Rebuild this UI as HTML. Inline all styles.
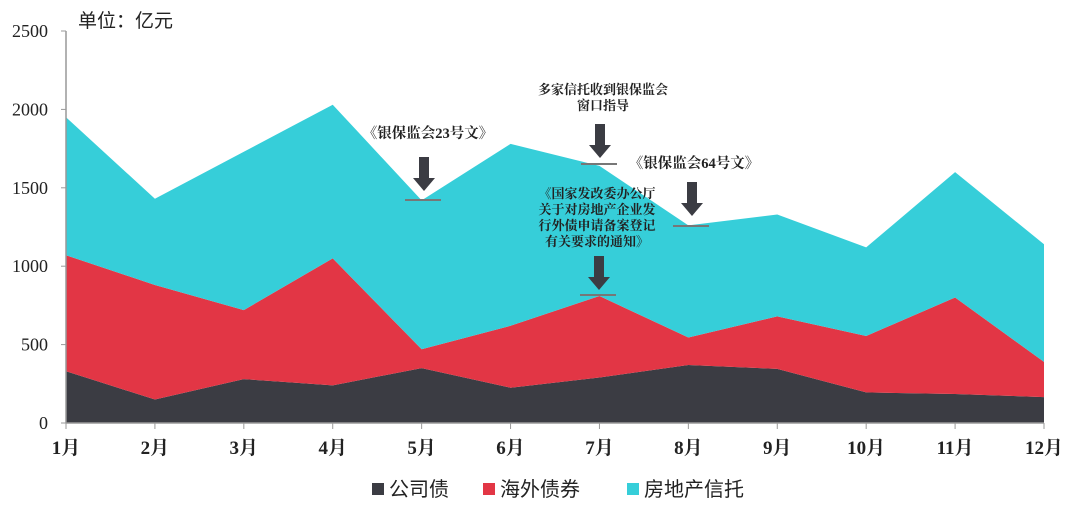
<!DOCTYPE html>
<html><head><meta charset="utf-8"><style>
body{margin:0;background:#fff;}
svg text{font-family:"Liberation Serif","Noto Serif CJK SC",serif;}
</style></head><body>
<svg id="chart" width="1080" height="507" viewBox="0 0 1080 507" xmlns="http://www.w3.org/2000/svg">
<g id="areas"></g>
<g id="axes"></g>
<text x="78" y="27" font-size="19" style="font-family:'Liberation Sans','Noto Sans CJK SC',sans-serif" fill="#222">单位：亿元</text>
<g id="annotations"></g>
<g id="legend"></g>
</svg>
<script>
const months = ["1月","2月","3月","4月","5月","6月","7月","8月","9月","10月","11月","12月"];
const corpBonds = [330,150,280,240,350,225,290,370,345,195,185,165];
const overseasBonds = [740,730,440,810,120,395,520,175,335,360,615,225];
const realEstateTrust = [880,550,1010,980,950,1160,830,715,650,565,800,750];
const yTicks = [0,500,1000,1500,2000,2500];
const yMax = 2500;

const NS="http://www.w3.org/2000/svg";
const x0=66,x1=1044,yb=423,yt=31;
const xs=i=>x0+i*(x1-x0)/(months.length-1);
const ys=v=>yb-(v/yMax)*(yb-yt);
function mk(tag,attrs,parent){const e=document.createElementNS(NS,tag);for(const k in attrs)e.setAttribute(k,attrs[k]);parent.appendChild(e);return e;}

const areas=document.getElementById('areas');
const series=[{name:'corp-bonds-area',vals:corpBonds,color:'#3b3c43'},{name:'overseas-bonds-area',vals:overseasBonds,color:'#e23645'},{name:'real-estate-trust-area',vals:realEstateTrust,color:'#36ced9'}];
let base=months.map(()=>0);
series.forEach(s=>{
  const top=base.map((b,i)=>b+s.vals[i]);
  let d='M'+months.map((m,i)=>xs(i)+','+ys(top[i])).join(' L');
  for(let i=months.length-1;i>=0;i--)d+=' L'+xs(i)+','+ys(base[i]);
  const p=mk('path',{d:d+'Z',fill:s.color},areas);
  
  
  base=top;
});

const axes=document.getElementById('axes');
const ya=mk('line',{x1:x0,y1:yt,x2:x0,y2:yb,stroke:'#999','stroke-width':1.5},axes);


const xa=mk('line',{x1:x0,y1:yb,x2:x1,y2:yb,stroke:'#999','stroke-width':1.5},axes);


yTicks.forEach(v=>{
  mk('line',{x1:x0-5,y1:ys(v),x2:x0,y2:ys(v),stroke:'#999'},axes);
  const t=mk('text',{x:48,y:ys(v)+6,'text-anchor':'end','font-size':18,fill:'#222'},axes);
  t.textContent=v;
  
  
});
months.forEach((m,i)=>{
  mk('line',{x1:xs(i),y1:yb,x2:xs(i),y2:yb+6,stroke:'#999'},axes);
  const t=mk('text',{x:xs(i),y:454,'text-anchor':'middle','font-size':19,'font-weight':'bold',fill:'#222'},axes);
  t.textContent=m;
  
  
});

const ann=document.getElementById('annotations');
const notes=[
 {name:'note-cbirc-23',lines:['《银保监会23号文》'],fs:14.5,tx:428,ty:138,ax:424,ay1:157,ay2:191,ly:200},
 {name:'note-window-guidance',lines:['多家信托收到银保监会','窗口指导'],fs:13,tx:603,ty:94,ax:600,ay1:124,ay2:158,ly:164},
 {name:'note-cbirc-64',lines:['《银保监会64号文》'],fs:14.5,tx:694,ty:168,ax:692,ay1:182,ay2:216,ly:226},
 {name:'note-ndrc',lines:['《国家发改委办公厅','关于对房地产企业发','行外债申请备案登记','有关要求的通知》'],fs:13,tx:597,ty:198,ax:599,ay1:256,ay2:290,ly:295}
];
notes.forEach(n=>{
  const g=mk('g',{},ann);
  
  
  n.lines.forEach((l,k)=>{const t=mk('text',{x:n.tx,y:n.ty+k*16,'text-anchor':'middle','font-size':n.fs,'font-weight':'bold',fill:'#222'},g);t.textContent=l;});
  mk('rect',{x:n.ax-5,y:n.ay1,width:10,height:n.ay2-n.ay1-12,fill:'#3b3c43'},g);
  mk('polygon',{points:(n.ax-11)+','+(n.ay2-13)+' '+(n.ax+11)+','+(n.ay2-13)+' '+n.ax+','+n.ay2,fill:'#3b3c43'},g);
  mk('line',{x1:n.ax-19,y1:n.ly,x2:n.ax+17,y2:n.ly,stroke:'#777','stroke-width':2},g);
});

const leg=document.getElementById('legend');
[{n:'公司债',c:'#3b3c43',x:372},{n:'海外债券',c:'#e23645',x:483},{n:'房地产信托',c:'#36ced9',x:627}].forEach(e=>{
  const g=mk('g',{},leg);
  
  
  mk('rect',{x:e.x,y:483,width:12,height:12,fill:e.c},g);
  const t=mk('text',{x:e.x+17,y:496,'font-size':20,fill:'#222',style:"font-family:'Liberation Sans','Noto Sans CJK SC',sans-serif"},g);
  t.textContent=e.n;
});
</script>
</body></html>
